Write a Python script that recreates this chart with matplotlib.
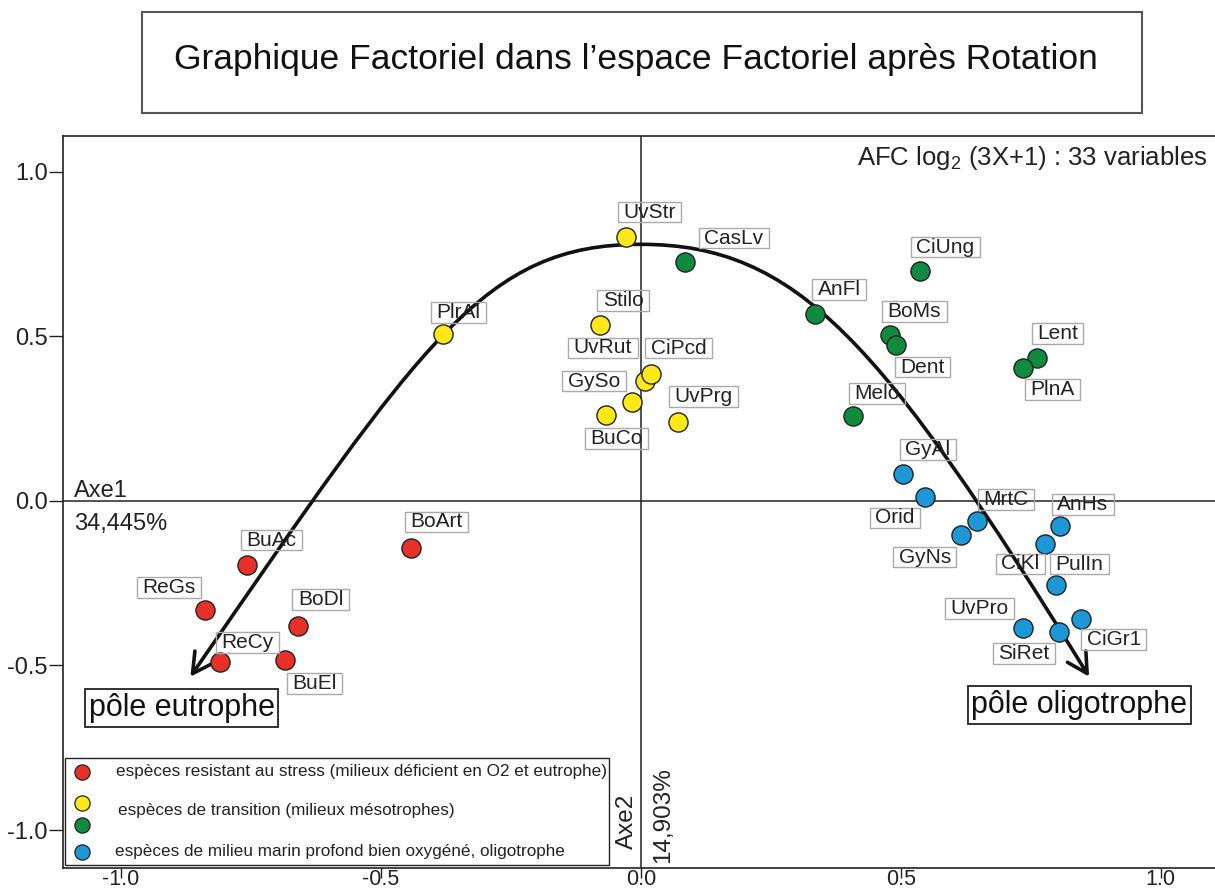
import matplotlib
matplotlib.use('Agg')
import matplotlib.pyplot as plt
from matplotlib.path import Path
from matplotlib.patches import FancyArrowPatch, Rectangle
from matplotlib.ticker import FixedLocator, FormatStrFormatter

plt.rcParams['font.family'] = ['Liberation Sans', 'DejaVu Sans']
plt.rcParams['axes.unicode_minus'] = False

# ---------------- data ----------------
red_names = ['BuAc', 'ReGs', 'BoDl', 'ReCy', 'BuEl', 'BoArt']
red_x = [-0.758, -0.838, -0.660, -0.809, -0.685, -0.441]
red_y = [-0.195, -0.330, -0.379, -0.490, -0.484, -0.143]

yellow_names = ['UvStr', 'PlrAl', 'Stilo', 'UvRut', 'CiPcd', 'GySo', 'BuCo', 'UvPrg']
yellow_x = [-0.029, -0.380, -0.078, 0.008, 0.019, -0.017, -0.066, 0.072]
yellow_y = [0.801, 0.506, 0.533, 0.364, 0.385, 0.300, 0.262, 0.240]

green_names = ['CasLv', 'AnFl', 'CiUng', 'BoMs', 'Dent', 'Lent', 'PlnA', 'Melo']
green_x = [0.085, 0.335, 0.537, 0.480, 0.490, 0.761, 0.734, 0.408]
green_y = [0.725, 0.566, 0.698, 0.503, 0.473, 0.435, 0.404, 0.257]

blue_names = ['GyAl', 'Orid', 'MrtC', 'GyNs', 'AnHs', 'CiKl', 'PulIn', 'UvPro', 'SiRet', 'CiGr1']
blue_x = [0.504, 0.546, 0.647, 0.615, 0.806, 0.778, 0.799, 0.734, 0.804, 0.846]
blue_y = [0.083, 0.012, -0.062, -0.104, -0.077, -0.131, -0.256, -0.387, -0.399, -0.360]

legend_labels = [
    'espèces resistant au stress (milieux déficient en O2 et eutrophe)',
    'espèces de transition (milieux mésotrophes)',
    '',
    'espèces de milieu marin profond bien oxygéné, oligotrophe',
]
x_ticks = [-1.0, -0.5, 0.0, 0.5, 1.0]
y_ticks = [-1.0, -0.5, 0.0, 0.5, 1.0]

# trend arc (hand-drawn guide): end points and peak
arc_left_end = (-0.866, -0.534)
arc_peak = (0.0, 0.779)
arc_right_end = (0.862, -0.534)

# ---------------- styling / layout ----------------
colors = {'red': '#e8302a', 'yellow': '#ffe817', 'green': '#108a3e', 'blue': '#1b98d5'}

# label offsets in pixels (dx, dy with y downward as in the picture)
offsets = {
    'BuAc': (25, -25), 'ReGs': (-36, -22), 'BoDl': (23, -26), 'ReCy': (27, -20),
    'BuEl': (30, 23), 'BoArt': (25, -26),
    'UvStr': (24, -25), 'PlrAl': (15, -22), 'Stilo': (23, -25), 'UvRut': (-42, -33),
    'CiPcd': (28, -26), 'GySo': (-38, -21), 'BuCo': (10, 24), 'UvPrg': (25, -25),
    'CasLv': (49, -24), 'AnFl': (24, -25), 'CiUng': (25, -24), 'BoMs': (24, -24),
    'Dent': (27, 22), 'Lent': (21, -24), 'PlnA': (30, 22), 'Melo': (24, -23),
    'GyAl': (25, -24), 'Orid': (-30, 21), 'MrtC': (29, -22), 'GyNs': (-36, 22),
    'AnHs': (23, -22), 'CiKl': (-25, 20), 'PulIn': (23, -21), 'UvPro': (-43, -20),
    'SiRet': (-35, 21), 'CiGr1': (33, 20),
}


def label_box(x0, y0, width, height, mutation_size):
    padx = 0.26 * mutation_size
    pady = 0.04 * mutation_size
    xa, xb = x0 - padx, x0 + width + padx
    ya, yb = y0 - pady, y0 + height + pady
    return Path([(xa, ya), (xb, ya), (xb, yb), (xa, yb), (xa, ya)],
                [Path.MOVETO, Path.LINETO, Path.LINETO, Path.LINETO, Path.CLOSEPOLY])


W, H = 1215, 891
fig = plt.figure(figsize=(W / 100, H / 100), dpi=100)
ax_left, ax_right, ax_top, ax_bottom = 63, 1216, 136, 868
ax = fig.add_axes([ax_left / W, 1 - ax_bottom / H, (ax_right - ax_left) / W, (ax_bottom - ax_top) / H])
ax.set_xlim(-1.111, 1.106)
ax.set_ylim(-1.115, 1.108)

for s in ax.spines.values():
    s.set_linewidth(1.2)
    s.set_color('#222222')
ax.spines['right'].set_visible(False)

ax.xaxis.set_major_locator(FixedLocator(x_ticks))
ax.yaxis.set_major_locator(FixedLocator(y_ticks))
ax.xaxis.set_major_formatter(FormatStrFormatter('%.1f'))
ax.yaxis.set_major_formatter(FormatStrFormatter('%.1f'))
ax.tick_params(axis='x', direction='out', length=7, width=1.0, pad=-6.2, labelsize=15.5, colors='#222222')
ax.tick_params(axis='y', direction='out', length=10, width=1.0, pad=1, labelsize=17, colors='#222222')

ax.axhline(0, color='#222222', lw=1.1, zorder=1)
ax.axvline(0, color='#222222', lw=1.1, zorder=1)

# arc with arrow heads
lx, ly = arc_left_end
px, py = arc_peak
rx, ry = arc_right_end
verts = [
    (lx, ly), (lx + 0.45, ly + 1.03), (px - 0.30, py), (px, py),
    (px + 0.30, py), (rx - 0.40, ry + 1.02), (rx, ry),
]
codes = [Path.MOVETO] + [Path.CURVE4] * 6
arc = FancyArrowPatch(path=Path(verts, codes), arrowstyle='<->,head_length=0.55,head_width=0.3',
                      mutation_scale=26, lw=2.6, color='#111111', zorder=2)
ax.add_patch(arc)

groups = [
    (red_names, red_x, red_y, colors['red']),
    (yellow_names, yellow_x, yellow_y, colors['yellow']),
    (green_names, green_x, green_y, colors['green']),
    (blue_names, blue_x, blue_y, colors['blue']),
]
for names, xs, ys, c in groups:
    ax.scatter(xs, ys, s=190, c=c, edgecolors='#222222', linewidths=1.0, zorder=4)
    for n, x, y in zip(names, xs, ys):
        dx, dy = offsets[n]
        ax.annotate(n, (x, y), xytext=(dx, -dy), textcoords='offset pixels',
                    ha='center', va='center', fontsize=15, color='#222222', zorder=5,
                    bbox=dict(boxstyle=label_box, fc='none', ec='#aaaaaa', lw=1.0))

# axis annotations
ytr = ax.get_yaxis_transform()
xtr = ax.get_xaxis_transform()
ax.text(0.0095, 0.012, 'Axe1', transform=ytr, ha='left', va='baseline', fontsize=17, color='#222222')
ax.text(0.0095, -0.089, '34,445%', transform=ytr, ha='left', va='baseline', fontsize=17, color='#222222')
ax.text(-0.026, 0.026, 'Axe2', transform=xtr, rotation=90, ha='center', va='bottom', fontsize=17.5, color='#222222')
ax.text(0.043, 0.007, '14,903%', transform=xtr, rotation=90, ha='center', va='bottom', fontsize=17.5, color='#222222')
ax.text(0.993, 0.970, r'AFC log$_{\mathregular{2}}$ (3X+1) : 33 variables', transform=ax.transAxes,
        ha='right', va='center', fontsize=18.5, color='#222222')

pole_box = dict(boxstyle='square,pad=0.12', fc='white', ec='#222222', lw=1.3)
ax.text(-0.883, -0.629, 'pôle eutrophe', ha='center', va='center', fontsize=22, color='#111111', bbox=pole_box, zorder=6)
ax.text(0.843, -0.620, 'pôle oligotrophe', ha='center', va='center', fontsize=22, color='#111111', bbox=pole_box, zorder=6)

# legend (custom layout)
axw = ax_right - ax_left
axh = ax_bottom - ax_top


def axf(xp, yp):
    return (xp - ax_left) / axw, (ax_bottom - yp) / axh


lx0, ly0 = axf(65, 865)
lx1, ly1 = axf(609, 758)
ax.add_patch(Rectangle((lx0, ly0), lx1 - lx0, ly1 - ly0, transform=ax.transAxes,
                       fc='white', ec='#222222', lw=1.0, zorder=6))
leg_marker_y = [771.7, 803, 825, 851.7]
leg_text_pos = [(116, 771.5), (118, 810.7), None, (115, 851.7)]
leg_colors = [colors['red'], colors['yellow'], colors['green'], colors['blue']]
for c, my, lab, tp in zip(leg_colors, leg_marker_y, legend_labels, leg_text_pos):
    mx, myf = axf(81.7, my)
    ax.scatter([mx], [myf], s=120, c=c, edgecolors='#222222', linewidths=0.9,
               transform=ax.transAxes, zorder=7, clip_on=False)
    if lab:
        tx, ty = axf(*tp)
        ax.text(tx, ty, lab, transform=ax.transAxes, ha='left', va='center',
                fontsize=12.3, color='#222222', zorder=7)

# title box
fig.patches.append(Rectangle((142 / W, 1 - 113 / H), 1000 / W, 101 / H, transform=fig.transFigure,
                             fc='white', ec='#555555', lw=1.5))
fig.text(636 / W, 1 - 60 / H, 'Graphique Factoriel dans l\u2019espace Factoriel après Rotation',
         ha='center', va='center', fontsize=25.5, color='#111111')

fig.savefig('out.png', dpi=100)
